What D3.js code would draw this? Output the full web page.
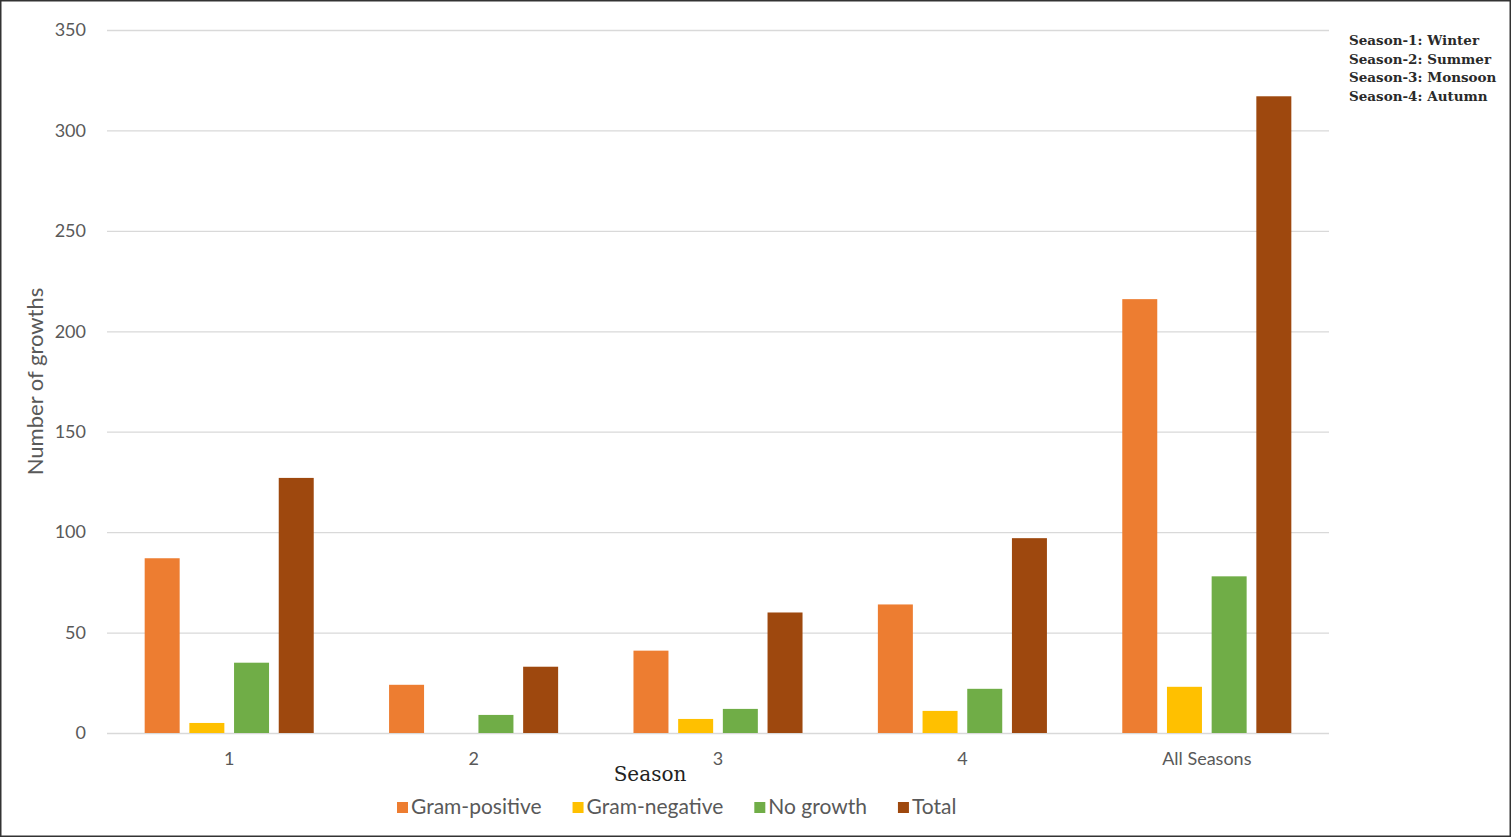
<!DOCTYPE html>
<html><head><meta charset="utf-8">
<script src="https://cdn.jsdelivr.net/npm/d3@7"></script>
<style>body{margin:0;background:#fff;}svg{display:block;}</style>
</head><body>
<svg id="c" width="1512" height="838"></svg>
<script>
const categories = ["1", "2", "3", "4", "All Seasons"];
const seriesNames = ["Gram-positive", "Gram-negative", "No growth", "Total"];
const gramPositive = [87, 24, 41, 64, 216];
const gramNegative = [5, 0, 7, 11, 23];
const noGrowth = [35, 9, 12, 22, 78];
const total = [127, 33, 60, 97, 317];
const yTicks = [0, 50, 100, 150, 200, 250, 300, 350];
const seasonNotes = ["Season-1: Winter", "Season-2: Summer", "Season-3: Monsoon", "Season-4: Autumn"];
const colors = ["#ED7D31", "#FFC000", "#70AD47", "#9E480E"];

const seriesValues = [gramPositive, gramNegative, noGrowth, total];
const svg = d3.select("#c");
const m = {left: 107, right: 1329, top: 30, bottom: 733};
const sans = "Lato, 'Open Sans', sans-serif";

svg.append("rect").attr("x", 0.75).attr("y", 0.75).attr("width", 1509.5).attr("height", 835.5)
  .attr("fill", "#fff").attr("stroke", "#333").attr("stroke-width", 1.5);

const y = d3.scaleLinear().domain([0, 350]).range([m.bottom, m.top]);
const x0 = d3.scaleBand().domain(categories).range([m.left, m.right]).padding(0);
const x1 = d3.scaleBand().domain(seriesNames).range([0, x0.bandwidth()]).paddingInner(0.217).paddingOuter(0.843);

// gridlines + y labels
const yAxis = d3.axisLeft(y).tickValues(yTicks).tickSize(-(m.right - m.left)).tickPadding(21);
const gy = svg.append("g").attr("transform", `translate(${m.left},0)`).call(yAxis);
gy.select(".domain").remove();
gy.selectAll(".tick line").attr("stroke", "#d9d9d9").attr("stroke-width", 1.3);
gy.selectAll(".tick text").attr("fill", "#595959").style("font-family", sans).style("font-size", "18px");

// bars
const groups = svg.append("g").selectAll("g").data(categories).join("g")
  .attr("transform", d => `translate(${x0(d)},0)`);
groups.selectAll("rect").data((d, i) => seriesNames.map((s, j) => ({s, v: seriesValues[j][i], c: colors[j]})))
  .join("rect")
  .attr("x", d => x1(d.s)).attr("width", x1.bandwidth())
  .attr("y", d => y(d.v)).attr("height", d => y(0) - y(d.v))
  .attr("fill", d => d.c);

// x axis labels
const xAxis = d3.axisBottom(x0).tickSize(0).tickPadding(19);
const gx = svg.append("g").attr("transform", `translate(0,${m.bottom})`).call(xAxis);
gx.select(".domain").remove();
gx.selectAll(".tick text").attr("fill", "#595959").style("font-family", sans).style("font-size", "18px");

// axis titles
svg.append("text").attr("transform", `translate(43,${(m.top + m.bottom) / 2}) rotate(-90)`)
  .attr("text-anchor", "middle").attr("fill", "#595959")
  .style("font-family", sans).style("font-size", "22px")
  .text("Number of growths");
svg.append("text").attr("x", 650).attr("y", 781).attr("text-anchor", "middle").attr("fill", "#222")
  .style("font-family", "'DejaVu Serif', 'Liberation Serif', serif").style("font-size", "20px")
  .text("Season");

// legend
const legend = svg.append("g");
let lx = 397;
seriesNames.forEach((name, i) => {
  legend.append("rect").attr("x", lx).attr("y", 802).attr("width", 11).attr("height", 11).attr("fill", colors[i]);
  const t = legend.append("text").attr("x", lx + 14).attr("y", 814).attr("fill", "#595959")
    .style("font-family", sans).style("font-size", "21px").text(name);
  lx += 14 + t.node().getComputedTextLength() + 31;
});

// season notes
svg.append("g").selectAll("text").data(seasonNotes).join("text")
  .attr("x", 1349).attr("y", (d, i) => 45 + i * 18.6).attr("fill", "#2a2a2a")
  .style("font-family", "'DejaVu Serif', serif").style("font-weight", "bold").style("font-size", "13.5px")
  .text(d => d);
</script>
</body></html>
